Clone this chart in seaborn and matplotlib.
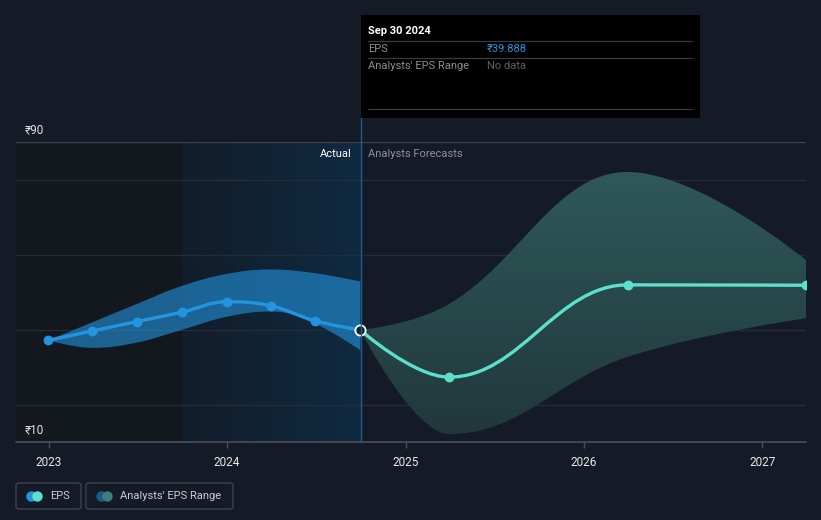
import numpy as np
import pandas as pd
import matplotlib
matplotlib.use("Agg")
import matplotlib.pyplot as plt
import seaborn as sns
from matplotlib.path import Path
from matplotlib.patches import PathPatch, Rectangle, FancyBboxPatch
from matplotlib.lines import Line2D
from matplotlib.colors import to_rgb

# ---------------- data ----------------
past_dates = ["2022-12-31", "2023-03-31", "2023-06-30", "2023-09-30",
              "2023-12-31", "2024-03-31", "2024-06-30", "2024-09-30"]
past_eps = [37.1, 39.6, 42.1, 44.6, 47.4, 46.3, 42.3, 39.888]
past_high = [37.1, 41.9, 46.8, 51.6, 54.8, 56.0, 55.0, 52.8]
past_low = [37.1, 35.1, 36.5, 39.9, 43.4, 44.8, 41.5, 34.5]

fc_dates = ["2024-09-30", "2025-03-31", "2026-03-31", "2027-03-31"]
fc_eps = [39.888, 27.3, 51.9, 51.8]
fc_high = [39.888, 46.8, 82.0, 58.5]
fc_low = [39.888, 12.1, 32.7, 43.0]

year_ticks = [2023, 2024, 2025, 2026, 2027]
y_labels = {90: "₹90", 10: "₹10"}
highlight_start = "2023-09-30"
tooltip_date = "Sep 30 2024"
tooltip_eps = "₹39.888"

# ---------------- helpers ----------------
def dec_year(s):
    d = pd.Timestamp(s)
    start = pd.Timestamp(year=d.year, month=1, day=1)
    end = pd.Timestamp(year=d.year + 1, month=1, day=1)
    return d.year + (d - start) / (end - start)

px = [dec_year(d) for d in past_dates]
fx = [dec_year(d) for d in fc_dates]
hl_x = dec_year(highlight_start)

def spline_verts(x, y):
    """Highcharts-like spline control points -> cubic Bezier vertices."""
    n = len(x)
    left = [None] * n
    right = [None] * n
    for i in range(n):
        if i == 0 or i == n - 1:
            left[i] = right[i] = (x[i], y[i])
            continue
        lx = (1.5 * x[i] + x[i - 1]) / 2.5
        ly = (1.5 * y[i] + y[i - 1]) / 2.5
        rx = (1.5 * x[i] + x[i + 1]) / 2.5
        ry = (1.5 * y[i] + y[i + 1]) / 2.5
        corr = ((ry - ly) * (rx - x[i])) / (rx - lx) + y[i] - ry
        ly += corr
        ry += corr
        if ly > y[i - 1] and ly > y[i]:
            ly = max(y[i - 1], y[i]); ry = 2 * y[i] - ly
        elif ly < y[i - 1] and ly < y[i]:
            ly = min(y[i - 1], y[i]); ry = 2 * y[i] - ly
        if ry > y[i + 1] and ry > y[i]:
            ry = max(y[i + 1], y[i]); ly = 2 * y[i] - ry
        elif ry < y[i + 1] and ry < y[i]:
            ry = min(y[i + 1], y[i]); ly = 2 * y[i] - ry
        left[i] = (lx, ly)
        right[i] = (rx, ry)
    verts = [(x[0], y[0])]
    for i in range(1, n):
        verts += [right[i - 1], left[i], (x[i], y[i])]
    return verts

def line_path(x, y):
    v = spline_verts(x, y)
    codes = [Path.MOVETO] + [Path.CURVE4] * (len(v) - 1)
    return Path(v, codes)

def band_path(x, hi, lo):
    u = spline_verts(x, hi)
    l = spline_verts(x, lo)[::-1]
    verts = u + l + [u[0]]
    codes = ([Path.MOVETO] + [Path.CURVE4] * (len(u) - 1) +
             [Path.LINETO] + [Path.CURVE4] * (len(l) - 1) + [Path.CLOSEPOLY])
    return Path(verts, codes)

# ---------------- style ----------------
BG = "#151b26"
sns.set_theme(style="dark")
plt.rcParams["font.family"] = ["Roboto", "DejaVu Sans"]
plt.rcParams["figure.facecolor"] = BG

W, H = 821, 520
fig = plt.figure(figsize=(W / 100, H / 100), dpi=100)
fig.patch.set_facecolor(BG)

def fx_(x):
    return x / W

def fy_(y):
    return 1 - y / H

ax_l, ax_r, ax_t, ax_b = 16, 806, 142, 442
ax = fig.add_axes([fx_(ax_l), fy_(ax_b), (ax_r - ax_l) / W, (ax_b - ax_t) / H])
ax.set_facecolor(BG)
xmin, xmax = 2022.817, fx[-1]
ax.set_xlim(xmin, xmax)
ax.set_ylim(10, 90)
for s in ax.spines.values():
    s.set_visible(False)

# background regions
ax.axvspan(xmin, hl_x, color="#13181f", zorder=0, lw=0)
c0 = np.array(to_rgb("#121d2a"))
c1 = np.array(to_rgb("#0f2a41"))
t = np.linspace(0, 1, 512)[None, :, None]
grad = c0 + (c1 - c0) * t
ax.imshow(grad, extent=[hl_x, px[-1], 10, 90], aspect="auto", zorder=0.1,
          interpolation="bilinear")

# grid lines
for gy in [20, 40, 60, 80]:
    ax.axhline(gy, color="#252c37", lw=1.0, zorder=0.5)
ax.axhline(90, color="#3b424d", lw=1.0, zorder=0.5)
ax.axhline(10, color="#4a505a", lw=1.2, zorder=3, clip_on=False)

# past band
pb = PathPatch(band_path(px, past_high, past_low), facecolor="#2394df",
               alpha=0.6, lw=0, zorder=1)
ax.add_patch(pb)

# forecast band with vertical gradient
fb = PathPatch(band_path(fx, fc_high, fc_low), facecolor="none", lw=0, zorder=1)
ax.add_patch(fb)
g0 = np.array(to_rgb("#315c5c"))  # top
g1 = np.array(to_rgb("#20373b"))  # bottom
tv = np.linspace(0, 1, 256)[:, None, None]
vgrad = g0 + (g1 - g0) * tv
im = ax.imshow(vgrad, extent=[fx[0], fx[-1], 10, 90], aspect="auto",
               zorder=1, interpolation="bilinear")
im.set_clip_path(fb)
ax.set_xlim(xmin, xmax)
ax.set_ylim(10, 90)

# lines
ax.add_patch(PathPatch(line_path(px, past_eps), facecolor="none",
                       edgecolor="#2394df", lw=2.4, zorder=3,
                       capstyle="round", joinstyle="round"))
ax.add_patch(PathPatch(line_path(fx, fc_eps), facecolor="none",
                       edgecolor="#5ce0cb", lw=2.4, zorder=3,
                       capstyle="round", joinstyle="round"))

past_df = pd.DataFrame({"x": px[:-1], "eps": past_eps[:-1]})
fc_df = pd.DataFrame({"x": fx[1:], "eps": fc_eps[1:]})
sns.scatterplot(data=past_df, x="x", y="eps", ax=ax, color="#2394df",
                s=50, linewidth=0, zorder=4)
sns.scatterplot(data=fc_df, x="x", y="eps", ax=ax, color="#5ce0cb",
                s=50, linewidth=0, zorder=4, clip_on=True)
ax.scatter([px[-1]], [past_eps[-1]], s=55, facecolor="#10263a",
           edgecolor="white", linewidth=1.3, zorder=5)

# ticks
ax.set_xticks(year_ticks)
ax.set_xticklabels([str(y) for y in year_ticks], color="#e8e8e8", fontsize=8.5)
ax.set_yticks([])
ax.tick_params(axis="x", direction="out", length=4, width=1,
               color="#4a505a", pad=6, bottom=True)
ax.set_xlabel("")
ax.set_ylabel("")
ax.grid(False)

# y labels
for v, lab in y_labels.items():
    ypix = ax_t if v == 90 else ax_b
    fig.text(fx_(25), fy_(ypix - 12), lab, color="#e0e0e0", fontsize=8.5,
             ha="left", va="center")

# divider line across top
fig.add_artist(Line2D([fx_(360.5), fx_(360.5)], [fy_(118), fy_(442)],
                      color="#1f5c8a", lw=1.0, zorder=6))

fig.text(fx_(352), fy_(154), "Actual", color="#ffffff", fontsize=8,
         ha="right", va="center")
fig.text(fx_(368), fy_(154), "Analysts Forecasts", color="#8a9099",
         fontsize=8, ha="left", va="center")

# tooltip
fig.add_artist(Rectangle((fx_(361), fy_(118)), (700 - 361) / W, (118 - 15) / H,
                         transform=fig.transFigure, facecolor="#000000",
                         edgecolor="none", zorder=7))
for ly in [41, 58, 109]:
    fig.add_artist(Line2D([fx_(368), fx_(692)], [fy_(ly), fy_(ly)],
                          color="#3a3a3a", lw=0.9, zorder=8))
fig.text(fx_(368), fy_(31), tooltip_date, color="#ffffff", fontsize=8,
         fontweight="bold", ha="left", va="center", zorder=9)
fig.text(fx_(368), fy_(49), "EPS", color="#8a8f96", fontsize=8,
         ha="left", va="center", zorder=9)
fig.text(fx_(487), fy_(49), tooltip_eps, color="#2394df", fontsize=8,
         ha="left", va="center", zorder=9)
fig.text(fx_(368), fy_(66), "Analysts' EPS Range", color="#8a8f96",
         fontsize=8, ha="left", va="center", zorder=9)
fig.text(fx_(487), fy_(66), "No data", color="#5d6168", fontsize=8,
         ha="left", va="center", zorder=9)

# legend
def legend_box(x0, x1, y0, y1):
    fig.add_artist(FancyBboxPatch((fx_(x0), fy_(y1)), (x1 - x0) / W,
                                  (y1 - y0) / H,
                                  boxstyle="round,pad=0,rounding_size=0.004",
                                  transform=fig.transFigure,
                                  facecolor="none", edgecolor="#3d434d",
                                  lw=1.0))

legend_box(16, 81, 483, 509)
legend_box(86, 233, 483, 509)
for cx, col in [(31, "#2394df"), (37, "#5ce0cb"),
                (101, "#1e5a85"), (107, "#3d7f7a")]:
    fig.add_artist(Line2D([fx_(cx)], [fy_(496)], marker="o", ms=7.5,
                          markerfacecolor=col, markeredgewidth=0,
                          linestyle="none"))
fig.text(fx_(50), fy_(496), "EPS", color="#c8ccd2", fontsize=8,
         ha="left", va="center")
fig.text(fx_(120), fy_(496), "Analysts' EPS Range", color="#c8ccd2",
         fontsize=8, ha="left", va="center")

fig.savefig("out.png", dpi=100, facecolor=BG)
